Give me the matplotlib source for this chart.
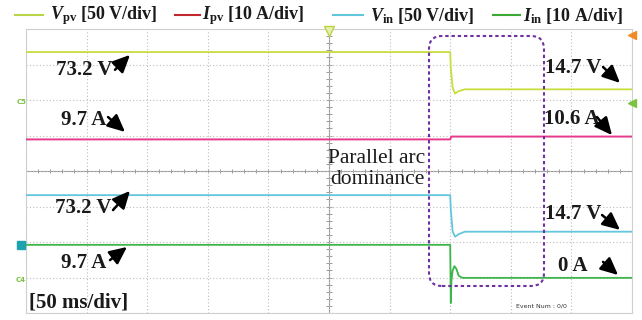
import numpy as np
import matplotlib
matplotlib.use("Agg")
import matplotlib.pyplot as plt
from matplotlib.lines import Line2D
from matplotlib.patches import FancyBboxPatch

plt.rcParams['mathtext.fontset'] = 'custom'
plt.rcParams['mathtext.it'] = 'Liberation Serif:italic:bold'
plt.rcParams['mathtext.rm'] = 'Liberation Serif:bold'
plt.rcParams['mathtext.bf'] = 'Liberation Serif:bold'

# ---- data (time in ms, screen level in divisions from bottom) ----
t_vpv = [0, 350, 350.5, 352, 354, 357, 362, 500]
vpv = [7.35, 7.35, 6.9, 6.35, 6.18, 6.25, 6.30, 6.30]

t_ipv = [0, 350, 351, 500]
ipv = [4.89, 4.89, 4.97, 4.97]

t_vin = [0, 350, 350.5, 352, 354, 357, 362, 500]
vin = [3.32, 3.32, 2.9, 2.3, 2.15, 2.22, 2.29, 2.29]

t_iin = [0, 350, 350.5, 351, 352, 353.5, 355, 357, 360, 500]
iin = [1.92, 1.92, 0.28, 0.9, 1.2, 1.32, 1.25, 1.05, 0.99, 0.99]

legend_labels = [r"$V_{\mathrm{pv}}$ [50 V/div]", r"$I_{\mathrm{pv}}$ [10 A/div]",
                 r"$V_{\mathrm{in}}$ [50 V/div]", r"$I_{\mathrm{in}}$ [10 A/div]"]
legend_colors = ['#b9d447', '#c1272d', '#62c6dc', '#3aaa35']
trace_colors = ['#c9dd3c', '#e6398c', '#62c6dc', '#3db54a']

fig = plt.figure(figsize=(6.42, 3.2), dpi=100)
ax = fig.add_axes([26/642, 7/320, 606/642, 284/320])
ax.set_xlim(0, 500)
ax.set_ylim(0, 8)
ax.set_xticks(np.arange(0, 501, 50))
ax.set_yticks(np.arange(0, 9, 1))
ax.tick_params(length=0, labelbottom=False, labelleft=False)
ax.grid(True, color='#bdbdbd', linestyle=(0, (1, 2)), linewidth=0.8)
for s in ax.spines.values():
    s.set_color('#cfcfcf')
    s.set_linewidth(0.8)

# center lines with ticks
ax.axhline(4, color='#9a9a9a', lw=0.8, zorder=1)
ax.axvline(250, color='#9a9a9a', lw=0.8, zorder=1)
ax.vlines(np.arange(0, 501, 10), 4 - 0.07, 4 + 0.07, color='#9a9a9a', lw=0.7, zorder=1)
ax.hlines(np.arange(0, 8.01, 0.2), 250 - 2.5, 250 + 2.5, color='#9a9a9a', lw=0.7, zorder=1)

# traces
ax.plot(t_vpv, vpv, color=trace_colors[0], lw=1.3, zorder=3)
ax.plot(t_ipv, ipv, color=trace_colors[1], lw=1.4, zorder=3)
ax.plot(t_vin, vin, color=trace_colors[2], lw=1.3, zorder=3)
ax.plot(t_iin, iin, color=trace_colors[3], lw=1.3, zorder=3)

# scope markers
ax.plot([250], [7.93], marker='v', ms=7, mfc='#e8f0b0', mec='#b9d447', clip_on=False, zorder=5)
ax.plot([500], [7.83], marker='<', ms=6, color='#f08a24', clip_on=False, zorder=5)
ax.plot([500], [5.92], marker='<', ms=6, color='#7cc242', clip_on=False, zorder=5)
ax.plot([-4.5], [1.92], marker='s', ms=6, color='#1fa2b0', clip_on=False, zorder=5)
ax.text(-4, 5.95, 'C5', color='#7cc242', fontsize=5, ha='center', va='center', fontweight='bold')
ax.text(-4, 0.93, 'C4', color='#7cc242', fontsize=5, ha='center', va='center', fontweight='bold')

# dashed rounded box
box = FancyBboxPatch((4.29, 0.34), 1.15, 2.50, boxstyle="round,pad=0,rounding_size=0.13",
                     transform=fig.dpi_scale_trans, fill=False, edgecolor='#7030a0',
                     linestyle=(0, (1.6, 1.4)), linewidth=1.5, zorder=6)
fig.add_artist(box)

# annotations
tkw = dict(fontsize=15, fontweight='bold', family='Liberation Serif', color='#1a1a1a',
           ha='center', va='center', zorder=7)
akw = dict(arrowstyle='-|>,head_width=0.35,head_length=0.75', lw=1.8, color='black',
           shrinkA=0, shrinkB=0, mutation_scale=14)

notes = [
    ("73.2 V", (47.9, 6.85), (73.4, 6.85), (85.8, 7.27)),
    ("9.7 A", (47.9, 5.45), (67.7, 5.52), (81.7, 5.10)),
    ("73.2 V", (47.4, 2.97), (71.8, 2.90), (85.8, 3.44)),
    ("9.7 A", (47.9, 1.41), (69.3, 1.49), (83.3, 1.86)),
    ("14.7 V", (451.7, 6.90), (476.1, 6.93), (490.1, 6.48)),
    ("10.6 A", (450.5, 5.46), (471.1, 5.52), (483.5, 5.01)),
    ("14.7 V", (451.7, 2.79), (475.3, 2.76), (490.1, 2.34)),
    ("0 A", (451.3, 1.32), (476.1, 1.44), (488.5, 1.07)),
]
for txt, pos, tail, head in notes:
    ax.text(pos[0], pos[1], txt, **tkw)
    ax.annotate('', xy=head, xytext=tail, arrowprops=akw, zorder=7)

ax.text(2.5, 0.30, "[50 ms/div]", fontsize=15, fontweight='bold', family='Liberation Serif',
        color='#1a1a1a', ha='left', va='center')
ax.text(289.6, 4.06, "Parallel arc\ndominance", fontsize=15.5, family='Liberation Serif',
        color='#1a1a1a', ha='center', va='center', linespacing=1.15, zorder=7)
ax.text(425, 0.2, "Event Num : 0/0", fontsize=4.5, color='#333333', ha='center', va='center')

# legend (manual, figure coords)
line_x = [(15, 43), (175, 200), (333, 363), (493, 520)]
text_x = [50, 202, 370, 523]
for (x0, x1), tx, lab, col in zip(line_x, text_x, legend_labels, legend_colors):
    fig.add_artist(Line2D([x0/642, x1/642], [305/320, 305/320], color=col, lw=1.5,
                          transform=fig.transFigure))
    fig.text(tx/642, 304/320, lab, fontsize=13, fontweight='bold', family='Liberation Serif',
             color='#1a1a1a', ha='left', va='center')

fig.savefig('out.png', dpi=100)
